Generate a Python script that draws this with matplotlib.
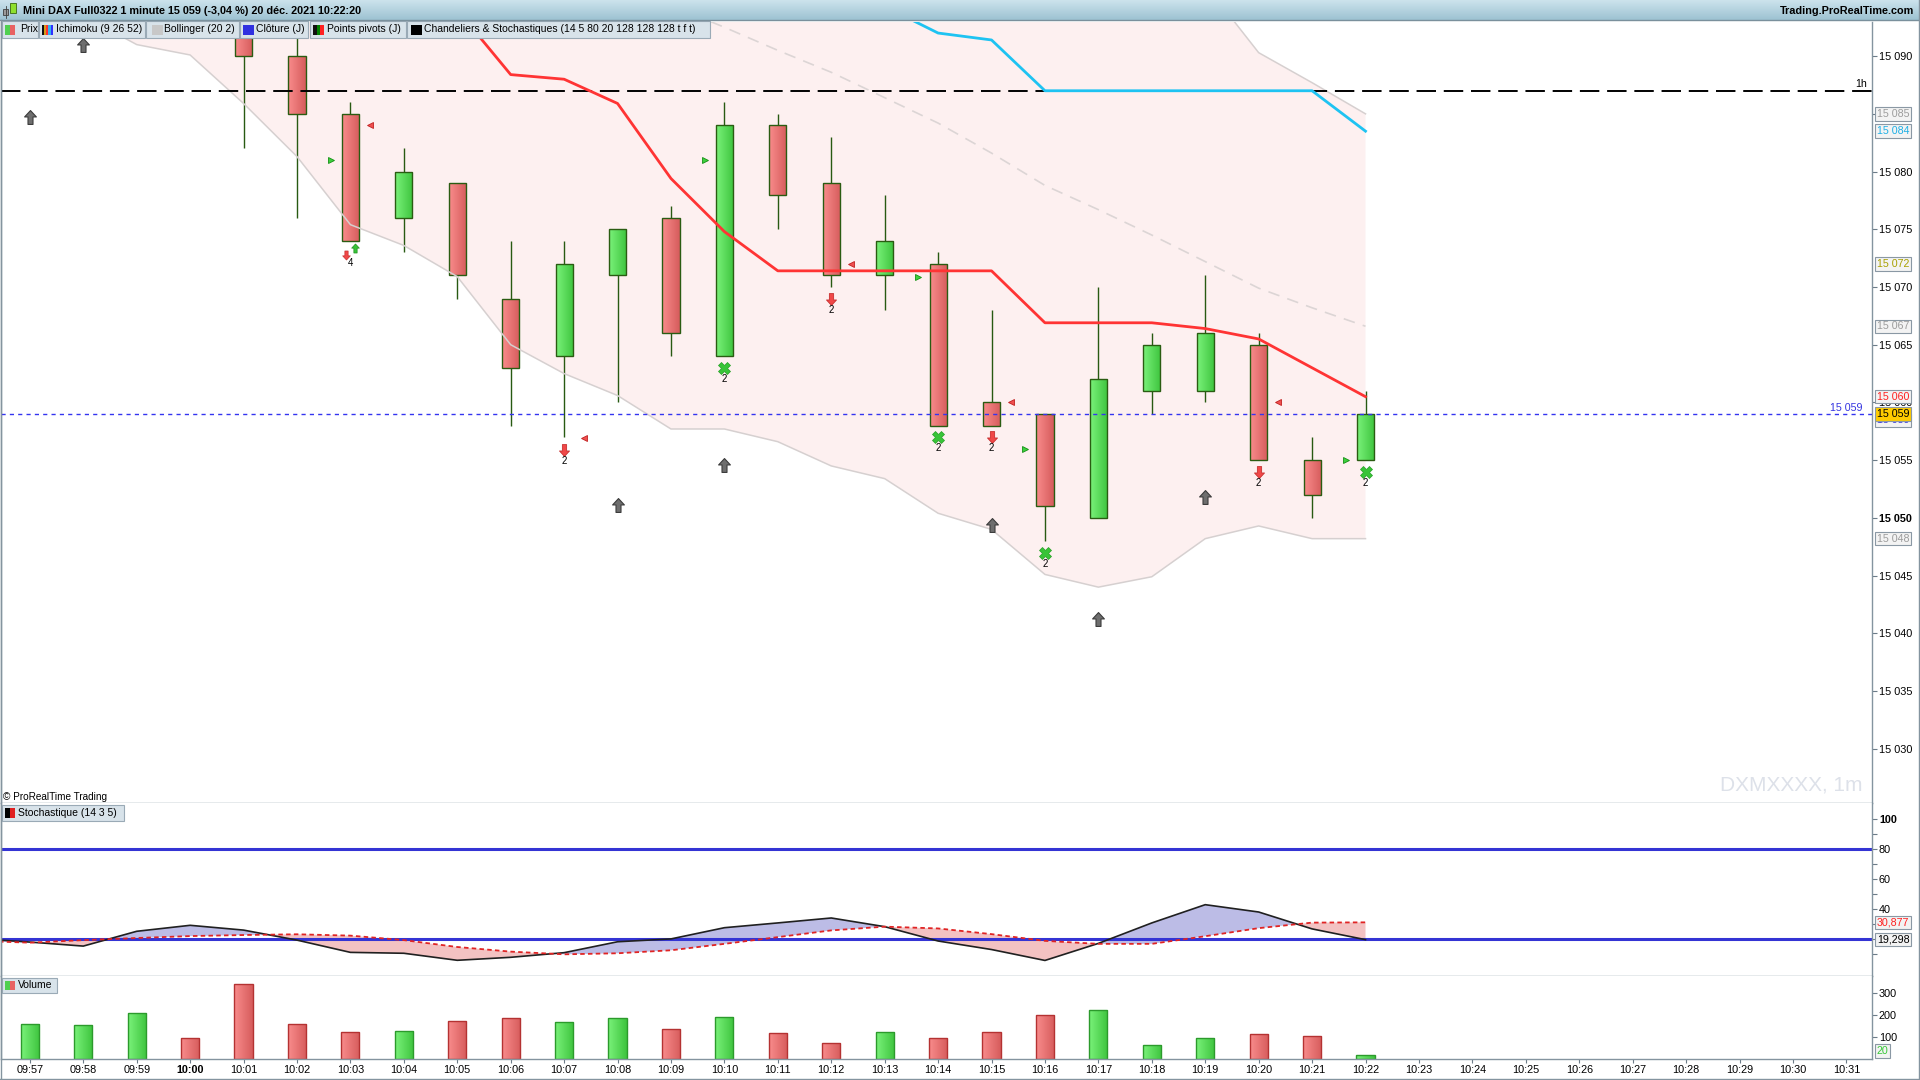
import numpy as np
import matplotlib
matplotlib.use("Agg")
import matplotlib.pyplot as plt
from matplotlib.colors import LinearSegmentedColormap
from matplotlib.path import Path
from matplotlib.patches import Rectangle

plt.rcParams['font.family'] = ['Liberation Sans', 'DejaVu Sans']

W, H = 1920, 1080

# ---------------------------------------------------------------- data
times = ['09:57', '09:58', '09:59', '10:00', '10:01', '10:02', '10:03', '10:04',
         '10:05', '10:06', '10:07', '10:08', '10:09', '10:10', '10:11', '10:12',
         '10:13', '10:14', '10:15', '10:16', '10:17', '10:18', '10:19', '10:20',
         '10:21', '10:22']
future_times = ['10:23', '10:24', '10:25', '10:26', '10:27', '10:28', '10:29',
                '10:30', '10:31']

opens = [15095, 15100, 15105, 15109, 15102, 15090, 15085, 15076, 15079, 15069,
         15064, 15071, 15076, 15064, 15084, 15079, 15071, 15072, 15060, 15059,
         15050, 15061, 15061, 15065, 15055, 15055]
highs = [15101, 15106, 15110, 15110, 15103, 15094, 15086, 15082, 15079, 15074,
         15074, 15075, 15077, 15086, 15085, 15083, 15078, 15073, 15068, 15059,
         15070, 15066, 15071, 15066, 15057, 15061]
lows = [15094, 15100, 15103, 15100, 15082, 15076, 15074, 15073, 15069, 15058,
        15057, 15060, 15064, 15064, 15075, 15070, 15068, 15058, 15058, 15048,
        15050, 15059, 15060, 15055, 15050, 15055]
closes = [15100, 15105, 15109, 15102, 15090, 15085, 15074, 15080, 15071, 15063,
          15072, 15075, 15066, 15084, 15078, 15071, 15074, 15058, 15058, 15051,
          15062, 15065, 15066, 15055, 15052, 15059]
volumes = [157, 153, 207, 95, 338, 157, 122, 126, 171, 185, 167, 185, 135, 188,
           116, 72, 122, 94, 122, 199, 221, 61, 94, 111, 106, 20]

# Bollinger (20 2)
boll_upper = [15140, 15141, 15140, 15138, 15138, 15139, 15139, 15135, 15133, 15135,
              15133, 15132, 15131, 15127, 15124, 15122, 15119, 15118, 15114, 15112,
              15109, 15104, 15096.2, 15090.3, 15087.7, 15085.0]
boll_mid = [15118, 15117, 15116, 15114, 15112, 15110, 15107, 15104, 15102, 15100,
            15098, 15096.3, 15094.4, 15092.5, 15090.5, 15088.6, 15086.4, 15084.2,
            15081.6, 15078.8, 15076.7, 15074.5, 15072.2, 15069.9, 15068.2, 15066.6]
boll_lower = [15096, 15093.5, 15091.0, 15090.1, 15085.9, 15081.3, 15075.4, 15073.6,
              15070.9, 15065.0, 15062.5, 15060.6, 15057.7, 15057.7, 15056.6, 15054.5,
              15053.4, 15050.4, 15049.0, 15045.1, 15044.0, 15044.9, 15048.2, 15049.3,
              15048.2, 15048.2]

# Ichimoku (9 26 52)
tenkan = [15112, 15110, 15108, 15106, 15104, 15101, 15099, 15097, 15094, 15088.4,
          15088.0, 15085.9, 15079.4, 15074.8, 15071.4, 15071.4, 15071.4, 15071.4,
          15071.4, 15066.9, 15066.9, 15066.9, 15066.4, 15065.5, 15063.0, 15060.5]
kijun = [15118, 15118, 15118, 15118, 15118, 15118, 15115, 15112, 15110, 15108,
         15106, 15104, 15102, 15100, 15098, 15096.5, 15094.3, 15092.0, 15091.4,
         15087.0, 15087.0, 15087.0, 15087.0, 15087.0, 15087.0, 15083.5]
ichimoku_span_last = 15072

level_1h = 15087
day_close = 15059

# Stochastique (14 3 5)
stoch_times = ['09:56'] + times
stoch_k = [20, 17.7, 15, 24.9, 28.9, 25.7, 19, 10.8, 10.2, 5.5, 7.5, 10.6, 17.9,
           19.8, 27.3, 30.5, 33.8, 28, 18.4, 12.7, 5.4, 16.8, 30.5, 42.7, 37.8,
           26.5, 19.298]
stoch_d = [18.5, 17.3, 19, 20.4, 21.7, 22.4, 22.9, 22, 19, 14.4, 11.3, 9.5, 10.2,
           12.2, 16.5, 21, 25.5, 28, 26.8, 23, 18.5, 16.5, 16.5, 21.6, 27, 30.7,
           30.877]

# signals (Chandeliers & Stochastiques)
gray_up_t = ['09:57', '09:58', '10:08', '10:10', '10:15', '10:17', '10:19']
gray_up_p = [15084.7, 15091.0, 15051.1, 15054.6, 15049.4, 15041.2, 15051.8]
red_down_t = ['10:07', '10:12', '10:15', '10:20']
red_down_p = [15055.9, 15069.0, 15057.0, 15054.0]
red_down_n = [2, 2, 2, 2]
green_x_t = ['10:10', '10:14', '10:16', '10:22']
green_x_p = [15063.0, 15057.0, 15047.0, 15054.0]
green_x_n = [2, 2, 2, 2]
pair_t = '10:03'
pair_p = 15073.1
pair_n = 4
green_tri_t = ['10:03', '10:10', '10:14', '10:16', '10:22']
green_tri_p = [15081.0, 15081.0, 15070.9, 15056.0, 15055.0]
red_tri_t = ['10:03', '10:07', '10:12', '10:15', '10:20']
red_tri_p = [15084.0, 15056.9, 15072.0, 15060.0, 15060.0]

price_ticks = [15030, 15035, 15040, 15045, 15050, 15055, 15060, 15065, 15070,
               15075, 15080, 15085, 15090]

title = "Mini DAX Full0322 1 minute 15 059 (-3,04 %) 20 d\u00e9c. 2021 10:22:20"

# ---------------------------------------------------------------- helpers
all_times = times + future_times
xpos = {t: i for i, t in enumerate(all_times)}
xpos['09:56'] = -1
x = np.arange(len(times))
XLIM = (-0.54, 34.48)

green_cmap = LinearSegmentedColormap.from_list('g', ['#7af27a', '#3ec43e'])
red_cmap = LinearSegmentedColormap.from_list('r', ['#f98c8c', '#d65c5c'])
grad = np.linspace(0, 1, 64).reshape(1, -1)


def frame(x0, y0, x1, y1):
    return [x0 / W, 1 - y1 / H, (x1 - x0) / W, (y1 - y0) / H]


def fmt_price(v):
    return f"{int(round(v)):,}".replace(',', ' ')


def gradient_bars(ax, xs, bottoms, heights, width, ups, edges, z):
    bars = ax.bar(xs, heights, width=width, bottom=bottoms, facecolor='none',
                  edgecolor=edges, linewidth=1.0, zorder=z + 0.1)
    for b, up in zip(bars, ups):
        bx, by = b.get_xy()
        im = ax.imshow(grad, cmap=green_cmap if up else red_cmap, aspect='auto',
                       extent=[bx, bx + b.get_width(), by, by + b.get_height()],
                       interpolation='bilinear', zorder=z)
        im.set_clip_path(b)
    return bars


def tag(ax, value, text, color, fc='#f3f3f3', dy=0, weight='normal'):
    ax.annotate(text, xy=(1, value), xycoords=ax.get_yaxis_transform(),
                xytext=(3.5, dy), textcoords='offset points', ha='left', va='center',
                fontsize=7.7, color=color, fontweight=weight, annotation_clip=False,
                bbox=dict(boxstyle='square,pad=0.16', fc=fc, ec='#8a98a4', lw=0.8),
                zorder=20)


def style_axes(ax):
    ax.spines['top'].set_visible(False)
    for s in ['left', 'bottom', 'right']:
        ax.spines[s].set_color('#84949f')
        ax.spines[s].set_linewidth(1.0)
    ax.yaxis.tick_right()
    ax.tick_params(axis='y', direction='out', length=3.5, width=0.8, color='#6c7c88',
                   pad=1.5, labelsize=7.8)
    ax.tick_params(axis='x', bottom=False, labelbottom=False)
    ax.set_xlim(*XLIM)


arrow_v = [(0, 1), (0.85, 0.08), (0.36, 0.08), (0.36, -1), (-0.36, -1), (-0.36, 0.08),
           (-0.85, 0.08), (0, 1)]
arrow_c = [Path.MOVETO] + [Path.LINETO] * 6 + [Path.CLOSEPOLY]
up_arrow = Path(arrow_v, arrow_c)
down_arrow = Path([(vx, -vy) for vx, vy in arrow_v], arrow_c)

# ---------------------------------------------------------------- figure
fig = plt.figure(figsize=(19.2, 10.8), dpi=100)
ax = fig.add_axes(frame(1, 21.5, 1872, 803))
ax_sto = fig.add_axes(frame(1, 803, 1872, 976))
ax_vol = fig.add_axes(frame(1, 976, 1872, 1059))

# ---- price panel
ax.fill_between(x, boll_lower, boll_upper, color='#fdf0f0', lw=0, zorder=1)
ax.plot(x, boll_upper, color='#d6d0d0', lw=1.1, zorder=4)
ax.plot(x, boll_lower, color='#d6d0d0', lw=1.1, zorder=4)
ax.plot(x, boll_mid, color='#dcd5d5', lw=1.2, dashes=(7, 5), zorder=4)

ax.axhline(level_1h, color='black', lw=1.4, dashes=(10, 4), zorder=4.5)
ax.axhline(day_close, color='#3434f0', lw=1.0, dashes=(3, 3), zorder=4.5)

ax.vlines(x, lows, highs, color='#285a12', lw=1.0, zorder=2)
ups = [c >= o for o, c in zip(opens, closes)]
gradient_bars(ax, x, np.minimum(opens, closes), np.abs(np.subtract(closes, opens)),
              0.32, ups, '#2a5c12', 2.2)

ax.plot(x, tenkan, color='#ff3434', lw=2.0, zorder=5)
ax.plot(x, kijun, color='#1ec3f2', lw=2.0, zorder=5)

ax.plot([xpos[t] for t in gray_up_t], gray_up_p, ls='none', marker=up_arrow, ms=10,
        mfc='#6e6e6e', mec='#3c3c3c', mew=0.8, zorder=6)
ax.plot([xpos[t] for t in red_down_t], red_down_p, ls='none', marker=down_arrow, ms=8.5,
        mfc='#f04848', mec='#c83030', mew=0.6, zorder=6)
for t, p, n in zip(red_down_t, red_down_p, red_down_n):
    ax.annotate(str(n), (xpos[t], p), xytext=(0, -8), textcoords='offset points',
                ha='center', va='center', fontsize=7, zorder=6)
ax.plot([xpos[t] for t in green_x_t], green_x_p, ls='none', marker='X', ms=8.5,
        mfc='#38c438', mec='#26a026', mew=0.5, zorder=6)
for t, p, n in zip(green_x_t, green_x_p, green_x_n):
    ax.annotate(str(n), (xpos[t], p), xytext=(0, -8), textcoords='offset points',
                ha='center', va='center', fontsize=7, zorder=6)
ax.plot(xpos[pair_t] - 0.09, pair_p - 0.3, ls='none', marker=down_arrow, ms=6.5,
        mfc='#f04848', mec='#c83030', mew=0.5, zorder=6)
ax.plot(xpos[pair_t] + 0.09, pair_p + 0.3, ls='none', marker=up_arrow, ms=6.5,
        mfc='#38c438', mec='#1e901e', mew=0.5, zorder=6)
ax.annotate(str(pair_n), (xpos[pair_t], pair_p), xytext=(0, -8.5),
            textcoords='offset points', ha='center', va='center', fontsize=7, zorder=6)
ax.plot([xpos[t] - 0.37 for t in green_tri_t], green_tri_p, ls='none', marker='>',
        ms=4.2, mfc='#3ed03e', mec='#149014', mew=0.6, zorder=6)
ax.plot([xpos[t] + 0.37 for t in red_tri_t], red_tri_p, ls='none', marker='<',
        ms=4.2, mfc='#f05050', mec='#c02020', mew=0.6, zorder=6)

style_axes(ax)
ax.set_ylim(15025.3, 15093.0)
ax.set_yticks(price_ticks, [fmt_price(v) for v in price_ticks])
for lbl in ax.get_yticklabels():
    if lbl.get_text() == '15 050':
        lbl.set_fontweight('bold')

ax.annotate('1h', xy=(0.9973, level_1h), xycoords=ax.get_yaxis_transform(),
            xytext=(0, 1.5), textcoords='offset points', ha='right', va='bottom',
            fontsize=7.7, zorder=6)
ax.annotate(fmt_price(day_close), xy=(0.9947, day_close),
            xycoords=ax.get_yaxis_transform(), xytext=(0, 1), textcoords='offset points',
            ha='right', va='bottom', fontsize=7.7, color='#3434e0', zorder=6)
ax.text(0.9947, 0.0166, 'DXMXXXX, 1m', transform=ax.transAxes, ha='right',
        va='baseline', fontsize=15, color='#dde1e9', zorder=0.5)

tag(ax, boll_upper[-1], fmt_price(boll_upper[-1]), '#9c9c9c')
tag(ax, kijun[-1], fmt_price(kijun[-1]), '#1eb0e6')
tag(ax, ichimoku_span_last, fmt_price(ichimoku_span_last), '#a8a000')
tag(ax, boll_mid[-1], fmt_price(boll_mid[-1]), '#9c9c9c')
tag(ax, tenkan[-1], fmt_price(tenkan[-1]), '#ff2020')
tag(ax, day_close, fmt_price(day_close), '#3434e0', dy=-4.5)
tag(ax, closes[-1], fmt_price(closes[-1]), 'black', fc='#ffcc00')
tag(ax, boll_lower[-1], fmt_price(boll_lower[-1]), '#9c9c9c')

# ---- stochastic panel
sx = np.array([xpos[t] for t in stoch_times])
k = np.array(stoch_k)
d = np.array(stoch_d)
ax_sto.fill_between(sx, k, d, where=k >= d, interpolate=True, color='#bcbce6', lw=0,
                    zorder=1)
ax_sto.fill_between(sx, k, d, where=k < d, interpolate=True, color='#f3c2c2', lw=0,
                    zorder=1)
ax_sto.axhline(80, color='#3434d4', lw=2.2, zorder=2)
ax_sto.axhline(20, color='#3434d4', lw=2.2, zorder=2)
ax_sto.plot(sx, k, color='#202020', lw=1.2, zorder=3)
ax_sto.plot(sx, d, color='#e02424', lw=1.3, dashes=(2.5, 1.8), zorder=3)
style_axes(ax_sto)
ax_sto.set_ylim(-5, 110.7)
sto_ticks = [10, 20, 30, 40, 50, 60, 70, 80, 90, 100]
ax_sto.set_yticks(sto_ticks, [str(v) if v in (40, 60, 80, 100) else '' for v in sto_ticks])
for lbl in ax_sto.get_yticklabels():
    if lbl.get_text() == '100':
        lbl.set_fontweight('bold')
tag(ax_sto, d[-1], f"{d[-1]:.3f}".replace('.', ','), '#ff2020')
tag(ax_sto, k[-1], f"{k[-1]:.3f}".replace('.', ','), 'black')

# ---- volume panel
vol_up = ups
gradient_bars(ax_vol, x, np.zeros(len(x)), volumes, 0.34, vol_up,
              ['#2c9a2c' if u else '#b43232' for u in vol_up], 2)
style_axes(ax_vol)
ax_vol.set_ylim(0, 375)
ax_vol.set_yticks([100, 200, 300], ['100', '200', '300'])
tag(ax_vol, volumes[-1], str(volumes[-1]), '#38c838', dy=2.5)
ax_vol.tick_params(axis='x', bottom=True, labelbottom=True, direction='out', length=3,
                   width=0.8, color='#6c7c88', pad=1.5, labelsize=7.8)
ax_vol.set_xticks(range(len(all_times)), all_times)
for lbl in ax_vol.get_xticklabels():
    if lbl.get_text() == '10:00':
        lbl.set_fontweight('bold')

for a in (ax, ax_sto, ax_vol):
    a.set_xlim(*XLIM)

# ---- window chrome (title bar, legends, borders)
chrome = fig.add_axes([0, 0, 1, 1], zorder=10)
chrome.patch.set_visible(False)
title_cmap = LinearSegmentedColormap.from_list('t', ['#cce3ec', '#9dc2d2'])
chrome.imshow(np.linspace(0, 1, 40).reshape(-1, 1), cmap=title_cmap, aspect='auto',
              extent=[0, W, 20, 0])
chrome.plot([0, W], [20, 20], color='#7a909c', lw=1.0)
chrome.add_patch(Rectangle((3, 9), 5, 6, fc='#9a9a9a', ec='#404040', lw=0.6))
chrome.plot([5.5, 5.5], [6, 18], color='#404040', lw=0.6)
chrome.add_patch(Rectangle((10, 3), 6, 10, fc='#8ee02e', ec='#3a6a10', lw=0.6))
chrome.text(23, 10.5, title, ha='left', va='center', fontsize=7.8, fontweight='bold')
chrome.text(1914, 10.5, 'Trading.ProRealTime.com', ha='right', va='center',
            fontsize=7.8, fontweight='bold')

legend_items = [
    (1.9, 38.3, 4.6, 19.9, 'Prix', ['#50d050', '#e86262']),
    (39.4, 144.7, 42.1, 55.5, 'Ichimoku (9 26 52)',
     ['#101010', '#d49a17', '#ff3030', '#30b0f0', '#3030ff']),
    (146.2, 239.2, 152.3, 163.8, 'Bollinger (20 2)', ['#c8c8c8']),
    (240.3, 308.1, 243.0, 256.4, 'Cl\u00f4ture (J)', ['#3030e0']),
    (310.0, 405.7, 313.0, 327.2, 'Points pivots (J)', ['#101010', '#008000', '#ff2020']),
    (406.8, 710.0, 411.4, 423.7,
     'Chandeliers & Stochastiques (14 5 80 20 128 128 128 t f t)', ['#000000']),
]
for x0, x1, ix, tx, label, icon in legend_items:
    chrome.add_patch(Rectangle((x0, 20.5), x1 - x0, 17.5, fc='#d8e3ea', ec='#9aaab6',
                               lw=0.8))
    iw = 10.5 / len(icon)
    for j, c in enumerate(icon):
        chrome.add_patch(Rectangle((ix + j * iw, 24.5), iw, 10, fc=c, lw=0))
    chrome.text(tx, 29.5, label, ha='left', va='center', fontsize=7.5)

for y0, y1, x1, label, icon in [(804.5, 820.5, 124, 'Stochastique (14 3 5)', ['#000000', '#e02020']),
                                (977.5, 993, 57, 'Volume', ['#50d050', '#e86262'])]:
    chrome.add_patch(Rectangle((1.5, y0), x1 - 1.5, y1 - y0, fc='#d8e3ea', ec='#9aaab6',
                               lw=0.8))
    for j, c in enumerate(icon):
        chrome.add_patch(Rectangle((4.5 + j * 5, y0 + 3), 5, y1 - y0 - 6, fc=c, lw=0))
    chrome.text(17.5, (y0 + y1) / 2, label, ha='left', va='center', fontsize=7.5)

chrome.text(3, 797, '\u00a9 ProRealTime Trading', ha='left', va='center', fontsize=7.2)

chrome.plot([0.5, 0.5], [20, 1078], color='#84949f', lw=1.0)
chrome.plot([1918.5, 1918.5], [0, 1078], color='#84949f', lw=1.0)
chrome.plot([0, W], [1078.5, 1078.5], color='#84949f', lw=1.0)
chrome.set_xlim(0, W)
chrome.set_ylim(H, 0)
chrome.axis('off')

fig.savefig('out.png', dpi=100)
